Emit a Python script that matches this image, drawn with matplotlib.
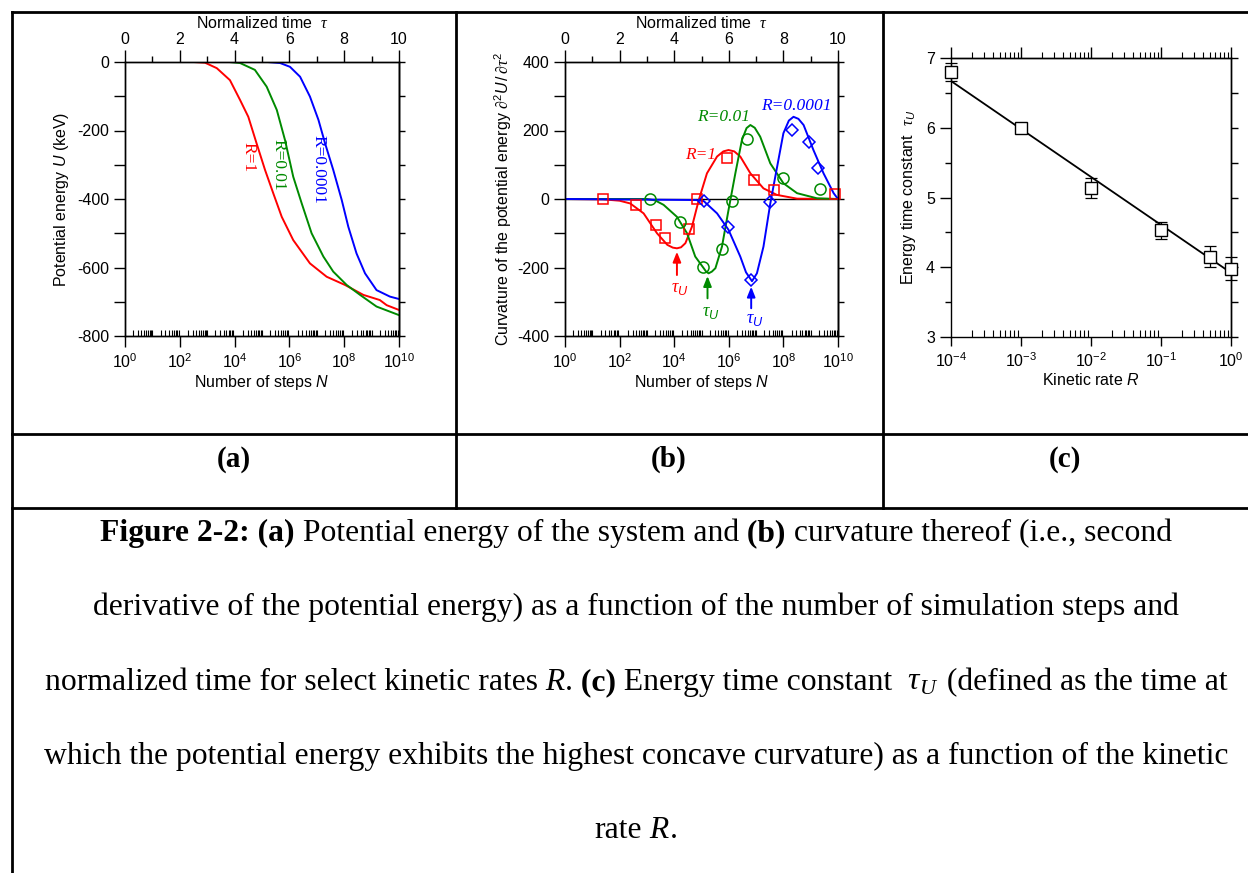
import numpy as np
import matplotlib
matplotlib.use('Agg')
import matplotlib.pyplot as plt
from matplotlib.lines import Line2D
from matplotlib.ticker import FixedLocator, NullFormatter

plt.rcParams['font.family'] = ['Liberation Sans', 'DejaVu Sans']
plt.rcParams['font.size'] = 11.5
plt.rcParams['axes.unicode_minus'] = False
plt.rcParams['mathtext.fontset'] = 'custom'
plt.rcParams['mathtext.rm'] = 'Liberation Sans'
plt.rcParams['mathtext.it'] = 'Liberation Sans:italic'
plt.rcParams['mathtext.bf'] = 'Liberation Sans:bold'
plt.rcParams['mathtext.sf'] = 'Liberation Serif:italic'
plt.rcParams['axes.linewidth'] = 1.0

RED, GREEN, BLUE = '#ff0000', '#008a00', '#0000ff'

# (a) potential energy vs normalized time tau = log10(N)
tau_a_r1 = [0, 2.5, 2.92, 3.35, 3.83, 4.2, 4.5, 4.8, 5.11, 5.41, 5.72, 6.14, 6.75, 7.36, 8.03, 8.7, 9.3, 9.55, 10]
U_r1 = [0, 0, -2, -18, -53, -111, -160, -237, -315, -383, -452, -520, -588, -627, -651, -680, -695, -710, -724]
tau_a_r001 = [0, 3.8, 4.2, 4.74, 5.17, 5.54, 5.84, 6.14, 6.45, 6.81, 7.24, 7.6, 8.09, 8.58, 9.18, 10]
U_r001 = [0, 0, -3, -23, -72, -140, -228, -335, -413, -500, -568, -612, -651, -680, -714, -739]
tau_a_r00001 = [0, 5.2, 5.66, 6.02, 6.39, 6.75, 7.06, 7.3, 7.6, 7.91, 8.15, 8.45, 8.76, 9.18, 9.67, 10]
U_r00001 = [0, 0, -3, -14, -43, -101, -169, -237, -315, -403, -481, -559, -617, -666, -685, -692]

# (b) curvature of potential energy, fitted curves and simulation points
tau_b_r1 = [0, 1.4, 2.0, 2.39, 2.88, 3.37, 3.75, 3.95, 4.1, 4.25, 4.41, 4.65, 4.9, 5.2, 5.57, 5.8, 5.99,
            6.2, 6.42, 6.79, 7.27, 7.76, 8.5, 10]
curv_r1 = [0, -1, -5, -13, -42, -100, -134, -142, -144, -141, -129, -81, -3, 75, 124, 139, 143,
           139, 124, 75, 31, 12, 1, 0]
tau_b_r001 = [0, 3.0, 3.3, 3.61, 4.1, 4.47, 4.77, 5.08, 5.17, 5.26, 5.38, 5.51, 5.75, 5.99, 6.24, 6.48,
              6.65, 6.79, 6.95, 7.15, 7.52, 8.0, 8.5, 9.23, 10]
curv_r001 = [0, 0, -4, -17, -52, -100, -168, -202, -212, -217, -212, -202, -139, -32, 75, 172,
             207, 216, 208, 182, 104, 46, 17, 2, 0]
tau_b_r00001 = [0, 4.8, 5.08, 5.57, 5.99, 6.42, 6.63, 6.85, 7.03, 7.27, 7.52, 7.77, 8.0, 8.2, 8.37, 8.55,
                8.74, 9.1, 9.47, 9.84, 10]
curv_r00001 = [0, -3, -6, -42, -90, -168, -214, -240, -217, -139, -13, 94, 192, 229, 240, 234,
               216, 143, 75, 17, 0]

pts_tau_r1 = [1.41, 2.59, 3.32, 3.67, 4.56, 4.83, 5.95, 6.91, 7.64, 9.9]
pts_curv_r1 = [0, -17, -76, -115, -89, -1, 119, 56, 26, 15]
pts_tau_r001 = [3.12, 4.22, 5.05, 5.74, 6.11, 6.67, 8.0, 9.33]
pts_curv_r001 = [0, -66, -198, -147, -6, 174, 62, 28]
pts_tau_r00001 = [5.08, 5.97, 6.82, 7.5, 8.31, 8.92, 9.27]
pts_curv_r00001 = [-6, -83, -237, -8, 201, 167, 91]

# tau_U markers: (tau, arrow head, arrow tail, label y)
tauU_pos = [4.1, 5.22, 6.82]
tauU_head = [-154, -225, -256]
tauU_tail = [-222, -290, -319]
tauU_label = [-262, -330, -353]

# (c) energy time constant vs kinetic rate
R_c = [1e-4, 1e-3, 1e-2, 1e-1, 0.5, 1.0]
tauU_c = [6.80, 6.00, 5.14, 4.53, 4.15, 3.98]
tauU_err = [0.13, 0.02, 0.14, 0.12, 0.15, 0.16]
fit_R = [1e-4, 1.0]
fit_tau = [6.67, 3.92]

fig = plt.figure(figsize=(12.48, 8.73), dpi=100)
W, H = 1248.0, 873.0


def px_rect(l, t, r, b):
    return [l / W, 1 - b / H, (r - l) / W, (b - t) / H]


def style_steps(ax, ymin, ymax, ymajor, yminor):
    ax.set_xscale('log')
    ax.set_xlim(1, 1e10)
    ax.set_ylim(ymin, ymax)
    ax.set_xticks(10.0 ** np.arange(0, 11, 2))
    ax.xaxis.set_minor_locator(FixedLocator([m * 10.0 ** k for k in range(10) for m in range(1, 10)]))
    ax.xaxis.set_minor_formatter(NullFormatter())
    ax.set_yticks(ymajor)
    ax.set_yticks(yminor, minor=True)
    ax.tick_params(axis='x', which='major', direction='out', length=8, width=1)
    ax.tick_params(axis='x', which='minor', direction='in', length=4.5, width=0.8)
    ax.tick_params(axis='y', which='both', direction='out', length=8, width=1)
    ax.set_xlabel('Number of steps $N$', labelpad=2)
    # top axis: normalized time, linear in log10(N)
    top = ax.twiny()
    top.set_xlim(0, 10)
    top.set_xticks(np.arange(0, 11, 2))
    top.set_xticks(np.arange(1, 10, 2), minor=True)
    top.tick_params(axis='x', which='major', direction='out', length=8.5, width=1, pad=2)
    top.tick_params(axis='x', which='minor', direction='out', length=4.5, width=1)
    top.set_xlabel(r'Normalized time  $\mathsf{\tau}$', labelpad=3)
    right = ax.secondary_yaxis('right')
    right.set_yticks(ymajor)
    right.set_yticks(yminor, minor=True)
    right.tick_params(which='both', direction='out', length=4.5, width=1, labelright=False)


# ---- panel (a)
ax_a = fig.add_axes(px_rect(125, 62, 399, 336))
style_steps(ax_a, -800, 0, np.arange(-800, 1, 200), np.arange(-700, 0, 200))
ax_a.plot(10.0 ** np.array(tau_a_r1), U_r1, color=RED, lw=1.4)
ax_a.plot(10.0 ** np.array(tau_a_r001), U_r001, color=GREEN, lw=1.4)
ax_a.plot(10.0 ** np.array(tau_a_r00001), U_r00001, color=BLUE, lw=1.4)
ax_a.set_ylabel('Potential energy $U$ (keV)', labelpad=4)
for t, u, s, c in [(4.5, -277, 'R=1', RED), (5.6, -300, 'R=0.01', GREEN), (7.05, -315, 'R=0.0001', BLUE)]:
    ax_a.text(10.0 ** t, u, s, color=c, rotation=-90, ha='center', va='center',
              family='Liberation Serif', fontsize=12.5)

# ---- panel (b)
ax_b = fig.add_axes(px_rect(565, 62, 838, 336))
style_steps(ax_b, -400, 400, np.arange(-400, 401, 200), np.arange(-300, 400, 200))
ax_b.axhline(0, color='black', lw=1.0, zorder=1)
for tc, cc, tp, cp, col, mk, ms in [
        (tau_b_r1, curv_r1, pts_tau_r1, pts_curv_r1, RED, 's', 7.5),
        (tau_b_r001, curv_r001, pts_tau_r001, pts_curv_r001, GREEN, 'o', 8),
        (tau_b_r00001, curv_r00001, pts_tau_r00001, pts_curv_r00001, BLUE, 'D', 6.5)]:
    ax_b.plot(10.0 ** np.array(tc), cc, color=col, lw=1.4, zorder=2)
    ax_b.plot(10.0 ** np.array(tp), cp, mk, ms=ms, mfc='none', mec=col,
              mew=1.1, zorder=3, clip_on=False)
ax_b.set_ylabel(r'Curvature of the potential energy $\mathsf{\partial}^2U\,/\,\mathsf{\partial\tau}^2$',
                labelpad=2)
for t, h, tl, ly, col in zip(tauU_pos, tauU_head, tauU_tail, tauU_label, [RED, GREEN, BLUE]):
    ax_b.annotate('', xy=(10.0 ** t, h), xytext=(10.0 ** t, tl),
                  arrowprops=dict(arrowstyle='-|>,head_length=0.5,head_width=0.2', color=col,
                                  lw=1.4, mutation_scale=12, shrinkA=0, shrinkB=0))
    ax_b.text(10.0 ** (t + 0.12), ly, r'$\mathsf{\tau}_U$', color=col, ha='center', va='center',
              fontsize=13)
for t, v, s, c in [(4.96, 128, 'R=1', RED), (5.81, 240, 'R=0.01', GREEN), (8.46, 272, 'R=0.0001', BLUE)]:
    ax_b.text(10.0 ** t, v, s, color=c, ha='center', va='center', family='Liberation Serif',
              style='italic', fontsize=12.5)

# ---- panel (c)
ax_c = fig.add_axes(px_rect(951, 58, 1231, 337))
ax_c.set_xscale('log')
ax_c.set_xlim(1e-4, 1)
ax_c.set_ylim(3, 7)
ax_c.set_xticks(10.0 ** np.arange(-4, 1))
ax_c.xaxis.set_minor_locator(FixedLocator([m * 10.0 ** k for k in range(-4, 0) for m in range(2, 10)]))
ax_c.xaxis.set_minor_formatter(NullFormatter())
ax_c.set_yticks(np.arange(3, 8))
ax_c.set_yticks(np.arange(3.5, 7, 1), minor=True)
ax_c.tick_params(axis='x', which='major', direction='out', length=6.5, width=1)
ax_c.tick_params(axis='x', which='minor', direction='in', length=5, width=0.8)
ax_c.tick_params(axis='y', which='major', direction='out', length=8, width=1)
ax_c.tick_params(axis='y', which='minor', direction='out', length=4.5, width=1)
ax_c.plot(fit_R, fit_tau, color='black', lw=1.3, zorder=2)
ax_c.errorbar(R_c, tauU_c, yerr=tauU_err, fmt='none', ecolor='black', elinewidth=0.9,
              capsize=4, capthick=0.9, zorder=3, clip_on=False)
ax_c.plot(R_c, tauU_c, 's', ms=8, mfc='white', mec='black', mew=1.0, zorder=4, clip_on=False)
ax_c.set_xlabel('Kinetic rate $R$', labelpad=2)
ax_c.set_ylabel(r'Energy time constant  $\mathsf{\tau}_U$', labelpad=6)
top_c = ax_c.secondary_xaxis('top')
top_c.set_xticks(10.0 ** np.arange(-4, 1))
top_c.xaxis.set_minor_locator(FixedLocator([m * 10.0 ** k for k in range(-4, 0) for m in range(2, 10)]))
top_c.tick_params(which='major', direction='out', length=8, width=1, labeltop=False)
top_c.tick_params(which='minor', direction='out', length=4.5, width=0.8)
top_c.xaxis.set_minor_formatter(NullFormatter())
right_c = ax_c.secondary_yaxis('right')
right_c.set_yticks(np.arange(3, 8))
right_c.set_yticks(np.arange(3.5, 7, 1), minor=True)
right_c.tick_params(which='both', direction='out', length=5, width=1, labelright=False)

# ---- table frame
frame = [((12, 12), (1248, 12)), ((12, 12), (12, 873)), ((456, 12), (456, 508)),
         ((883, 12), (883, 508)), ((12, 434), (1248, 434)), ((12, 508), (1248, 508))]
for (x0, y0), (x1, y1) in frame:
    fig.add_artist(Line2D([x0 / W, x1 / W], [1 - y0 / H, 1 - y1 / H], color='black', lw=2.0,
                          transform=fig.transFigure))

for x, s in [(234, '(a)'), (669, '(b)'), (1065, '(c)')]:
    fig.text(x / W, 1 - 467 / H, s, ha='center', va='baseline', family='Liberation Serif',
             weight='bold', fontsize=21)

# ---- caption, drawn piece by piece so bold / italic runs can be mixed
SERIF = 'Liberation Serif'
caption = [
    [('Figure 2-2: (a)', 'bold', 'normal'), (' Potential energy of the system and', 'normal', 'normal'),
     (' (b)', 'bold', 'normal'), (' curvature thereof (i.e., second', 'normal', 'normal')],
    [('derivative of the potential energy) as a function of the number of simulation steps and',
      'normal', 'normal')],
    [('normalized time for select kinetic rates', 'normal', 'normal'), (' R', 'normal', 'italic'),
     ('.', 'normal', 'normal'), (' (c)', 'bold', 'normal'), (' Energy time constant', 'normal', 'normal'),
     (r'  $\mathsf{\tau}_\mathsf{U}$', 'normal', 'normal'), (' (defined as the time at', 'normal', 'normal')],
    [('which the potential energy exhibits the highest concave curvature) as a function of the kinetic',
      'normal', 'normal')],
    [('rate', 'normal', 'normal'), (' R', 'normal', 'italic'), ('.', 'normal', 'normal')],
]
cap_base = [541, 615, 690, 764, 838]
renderer = fig.canvas.get_renderer()
for parts, yb in zip(caption, cap_base):
    texts = [fig.text(0, 1 - yb / H, s, family=SERIF, weight=w, style=st, fontsize=22.8,
                      ha='left', va='baseline') for s, w, st in parts]
    widths = [t.get_window_extent(renderer).width for t in texts]
    x = 636 - sum(widths) / 2
    for t, wd in zip(texts, widths):
        t.set_x(x / W)
        x += wd

fig.savefig('out.png', dpi=100)
